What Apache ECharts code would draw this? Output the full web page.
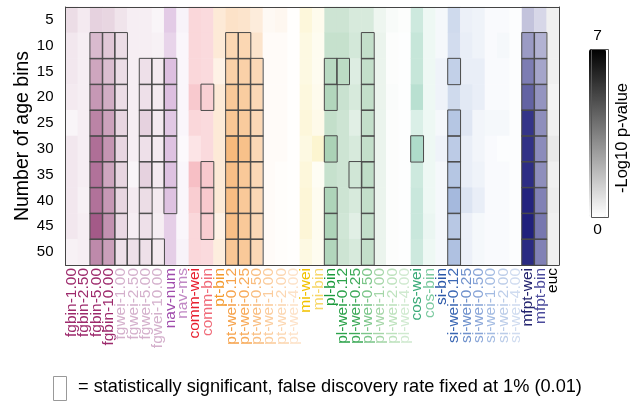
<!DOCTYPE html>
<html><head><meta charset="utf-8">
<script src="https://cdn.jsdelivr.net/npm/echarts@6/dist/echarts.min.js"></script>
<style>html,body{margin:0;padding:0;background:#fff}#c{width:630px;height:403px}</style>
</head><body><div id="c"></div>
<script>
// ---------- data ----------
const ageBins = ['5','10','15','20','25','30','35','40','45','50'];
const methods = ['fgbin-1.00','fgbin-2.50','fgbin-5.00','fgbin-10.00','fgwei-1.00','fgwei-2.50','fgwei-5.00','fgwei-10.00',
  'nav-num','nav-ms','comm-wei','comm-bin','pt-bin','pt-wei-0.12','pt-wei-0.25','pt-wei-0.50','pt-wei-1.00','pt-wei-2.00','pt-wei-4.00',
  'mi-wei','mi-bin','pl-bin','pl-wei-0.12','pl-wei-0.25','pl-wei-0.50','pl-wei-1.00','pl-wei-2.00','pl-wei-4.00',
  'cos-wei','cos-bin','si-bin','si-wei-0.12','si-wei-0.25','si-wei-0.50','si-wei-1.00','si-wei-2.00','si-wei-4.00',
  'mfpt-wei','mfpt-bin','euc'];
// -log10 p-values, one array per method, rows 5..50
const values = [
  [1.0,0.7,0.7,0.6,0.3,0.7,0.7,0.7,0.7,0.4],
  [0.6,0.5,0.5,0.5,0.5,0.5,0.5,0.4,0.5,0.5],
  [1.3,2.0,2.6,3.0,3.6,4.2,4.1,4.1,4.8,3.4],
  [1.2,1.6,1.9,2.4,2.7,3.1,2.6,3.0,3.2,2.8],
  [0.8,1.0,1.0,1.0,1.2,1.2,1.2,1.2,1.1,0.9],
  [0.5,0.5,0.5,0.5,0.5,0.5,0.3,0.6,0.5,0.9],
  [0.5,0.5,0.9,0.9,1.3,0.9,1.3,1.0,0.9,0.9],
  [0.3,0.4,0.6,0.6,0.6,0.6,0.6,0.6,0.5,0.6],
  [1.7,1.4,2.1,2.1,1.8,2.0,2.0,2.0,1.6,1.6],
  [0.4,0.3,0.3,0.3,0.3,0.2,0.3,0.3,0.3,0.4],
  [1.2,1.2,1.2,1.6,1.2,0.8,1.9,1.5,1.2,1.2],
  [1.1,1.1,1.1,1.4,1.1,1.1,1.6,1.6,1.5,1.1],
  [1.1,1.1,0.7,1.1,1.1,1.1,1.1,1.1,0.7,0.9],
  [1.5,2.1,2.4,2.8,2.9,3.6,3.3,3.4,3.3,2.9],
  [1.4,2.1,2.4,2.6,2.7,3.2,2.8,2.8,2.8,2.8],
  [1.0,1.4,2.0,2.0,2.0,2.0,2.0,2.0,2.0,2.0],
  [0.3,0.2,0.2,0.2,0.2,0.2,0.2,0.2,0.2,0.2],
  [0.4,0.2,0.2,0.2,0.2,0.2,0.1,0.1,0.1,0.1],
  [0.05,0.05,0.05,0.05,0.05,0.05,0.05,0.05,0.05,0.05],
  [1.0,0.8,0.8,0.9,1.0,0.8,1.0,1.1,1.1,0.8],
  [0.5,0.4,0.4,0.5,0.6,1.3,0.3,0.4,0.4,0.4],
  [1.5,1.7,2.1,2.3,1.8,2.5,1.7,2.4,2.4,2.3],
  [1.5,1.7,2.0,1.6,1.5,1.5,1.5,1.5,1.4,1.5],
  [1.2,1.3,1.0,1.2,0.9,1.2,1.4,1.2,0.9,1.2],
  [1.2,1.8,1.8,1.8,1.8,1.8,1.9,1.8,1.8,1.8],
  [0.5,0.6,0.6,0.6,0.6,0.6,0.6,0.6,0.6,0.6],
  [0.2,0.1,0.1,0.15,0.1,0.1,0.1,0.1,0.1,0.1],
  [0.1,0.05,0.05,0.05,0.05,0.05,0.05,0.05,0.05,0.05],
  [1.5,1.7,1.7,2.1,1.1,2.4,1.5,1.6,1.6,1.5],
  [0.5,0.5,0.5,0.5,0.5,0.5,0.5,0.5,0.6,0.5],
  [0.3,0.3,0.5,0.5,0.3,0.5,0.3,0.3,0.3,0.3],
  [1.5,1.4,1.9,1.5,2.3,2.1,2.3,2.8,2.2,2.5],
  [0.6,0.7,0.7,0.9,1.0,0.7,0.7,1.1,0.6,0.6],
  [0.5,0.5,0.7,0.7,0.4,0.4,0.5,0.7,0.3,0.3],
  [0.2,0.2,0.2,0.2,0.3,0.2,0.2,0.2,0.2,0.2],
  [0.2,0.3,0.2,0.2,0.3,0.1,0.2,0.2,0.2,0.2],
  [0.1,0.1,0.1,0.1,0.1,0.1,0.1,0.1,0.1,0.1],
  [1.8,3.0,3.9,4.7,6.1,6.2,6.3,6.6,6.7,6.4],
  [1.2,2.3,2.7,3.2,3.4,3.5,3.4,3.8,4.1,3.8],
  [0.4,0.4,0.4,0.3,0.4,0.6,0.4,0.5,0.4,0.4]
];
// significance flags (FDR 1%), one string per method, rows 5..50
const significant = [
  '0000000000','0000000000','0111111111','0111111111','0111111111','0000000001','0011111111','0011111001',
  '0011111100','0000000000','0000000000','0001001110','0000000000','0111111111','0111111111','0011111111',
  '0000000000','0000000000','0000000000','0000000000','0000000000','0011010111','0010000000','0000001000',
  '0111111111','0000000000','0000000000','0000000000','0000010000','0000000000','0000000000','0010111111',
  '0000000000','0000000000','0000000000','0000000000','0000000000','0111111111','0111111111','0000000000'
];
const colorbarRange = [0, 7];
const colorbarLabels = ['7', '0'];
const yName = 'Number of age bins';
const colorbarName = '-Log10 p-value';
const legendText = '= statistically significant, false discovery rate fixed at 1% (0.01)';

// ---------- styles ----------
const FONT = '"Liberation Sans", Arial, Helvetica, sans-serif';
const familyRGB = {
  fg:[122,15,82], nav:[140,40,150], comm:[225,20,40], pt:[240,120,0], mi:[240,200,0],
  pl:[20,130,50], cos:[20,150,100], si:[30,80,170], mfpt:[22,22,118], euc:[0,0,0]
};
const labelColors = ['#9d2a6c','#9d2a6c','#9d2a6c','#9d2a6c','#d4b0cc','#d4b0cc','#d4b0cc','#d4b0cc',
  '#a04cac','#c088c4','#e8202f','#f06a78','#f49a2c','#f6a24a','#f8aa58','#f9bd7f','#fbcc9c','#fcd6b0','#fde2c8',
  '#f2c200','#f7d768','#1c9a3c','#2ca24a','#3eaa58','#7cc68a','#a5d6a8','#bde2bd','#d0ead0',
  '#3aaa78','#7ccaa0','#2b58a8','#3c68b4','#6f91cc','#8aa6d8','#a3bbe2','#bccde9','#d0dcf0',
  '#23236e','#4b4b9c','#000000'];
function familyOf(name){
  const p = name.split('-')[0];
  if (p === 'fgbin' || p === 'fgwei') return 'fg';
  return p;
}
function cellColor(name, v){
  const b = familyRGB[familyOf(name)];
  const t = Math.max(0, Math.min(1, v / colorbarRange[1]));
  const c = b.map(x => Math.round(255 + (x - 255) * t));
  return 'rgb(' + c.join(',') + ')';
}

const cells = [], boxes = [];
methods.forEach((m, i) => {
  ageBins.forEach((a, j) => {
    const v = values[i][j];
    cells.push({ value: [i, j, v], itemStyle: { color: cellColor(m, v) } });
    if (significant[i][j] === '1') boxes.push([i, j, v]);
  });
});

const chart = echarts.init(document.getElementById('c'), null, { renderer: 'canvas' });
const axisLabelData = methods.map((m, i) => ({ value: m, textStyle: { color: labelColors[i] } }));
chart.setOption({
  animation: false,
  backgroundColor: '#fff',
  textStyle: { fontFamily: FONT },
  grid: { left: 65.5, right: 71, top: 7, bottom: 138, show: false },
  xAxis: [
    { type: 'category', data: axisLabelData, position: 'bottom', z: 10,
      axisLine: { show: true, onZero: false, lineStyle: { color: '#444', width: 1 } },
      axisTick: { show: false }, splitLine: { show: false },
      axisLabel: { interval: 0, rotate: 90, fontSize: 15.5, margin: 3, fontFamily: FONT } },
    { type: 'category', data: methods, position: 'top', z: 10,
      axisLine: { show: true, onZero: false, lineStyle: { color: '#444', width: 1 } },
      axisTick: { show: false }, axisLabel: { show: false } }
  ],
  yAxis: [
    { type: 'category', data: ageBins, inverse: true, position: 'left', z: 10,
      axisLine: { show: true, onZero: false, lineStyle: { color: '#444', width: 1 } },
      axisTick: { show: false }, splitLine: { show: false },
      axisLabel: { fontSize: 15, color: '#000', margin: 12, fontFamily: FONT },
      name: yName, nameLocation: 'middle', nameGap: 33, nameMoveOverlap: false,
      nameTextStyle: { fontSize: 19.5, color: '#000', fontFamily: FONT } },
    { type: 'category', data: ageBins, inverse: true, position: 'right', z: 10,
      axisLine: { show: true, onZero: false, lineStyle: { color: '#444', width: 1 } },
      axisTick: { show: false }, axisLabel: { show: false } }
  ],
  visualMap: {
    type: 'continuous', min: colorbarRange[0], max: colorbarRange[1], seriesIndex: [2],
    calculable: false, orient: 'vertical', left: 589, top: 28, padding: 0,
    itemWidth: 17, itemHeight: 168, text: colorbarLabels, textGap: 5,
    inRange: { color: ['#ffffff', '#000000'] },
    textStyle: { fontSize: 15.5, color: '#000', fontFamily: FONT }
  },
  series: [
    { type: 'heatmap', xAxisIndex: 0, yAxisIndex: 0, data: cells, silent: true,
      emphasis: { disabled: true }, itemStyle: { borderWidth: 0 } },
    { type: 'heatmap', xAxisIndex: 0, yAxisIndex: 0, data: boxes, silent: true, z: 3,
      emphasis: { disabled: true },
      itemStyle: { color: 'rgba(0,0,0,0)', borderColor: '#4a4a4a', borderWidth: 1 } },
    { type: 'scatter', xAxisIndex: 0, yAxisIndex: 0, data: [], silent: true }
  ],
  graphic: [
    { type: 'rect', left: 589, top: 47, z: 100, silent: true,
      shape: { width: 17, height: 168 }, style: { fill: 'none', stroke: '#555', lineWidth: 1 } },
    { type: 'text', x: 622, y: 138, rotation: Math.PI / 2, z: 100, silent: true,
      style: { text: colorbarName, fontSize: 16.5, fill: '#000', fontFamily: FONT, align: 'center', verticalAlign: 'middle' } },
    { type: 'rect', z: 100, silent: true, shape: { x: 53.5, y: 376.5, width: 13, height: 24 },
      style: { fill: 'none', stroke: '#999', lineWidth: 1 } },
    { type: 'text', x: 78, y: 387, z: 100, silent: true,
      style: { text: legendText, fontSize: 18.2, fill: '#000', fontFamily: FONT, align: 'left', verticalAlign: 'middle' } }
  ]
});
</script>
</body></html>
